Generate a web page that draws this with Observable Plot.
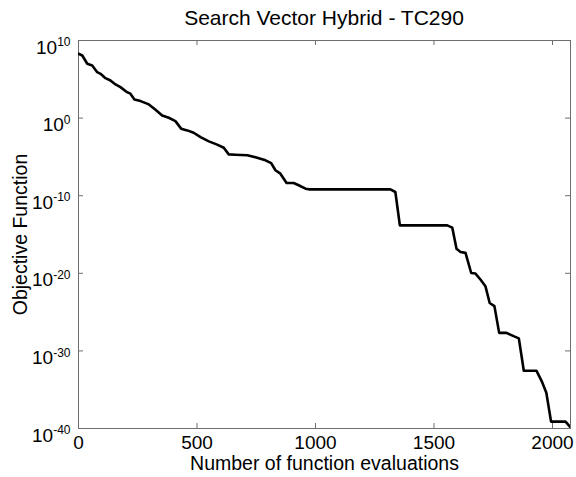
<!DOCTYPE html>
<html>
<head>
<meta charset="utf-8">
<script src="https://cdn.jsdelivr.net/npm/d3@7"></script>
<script src="https://cdn.jsdelivr.net/npm/@observablehq/plot@0.6"></script>
<style>
  html, body { margin: 0; padding: 0; background: #fff; }
  #wrap { width: 576px; height: 477px; position: relative; font-family: "Liberation Sans", Arial, sans-serif; }
  #title { position: absolute; top: 0; left: 0; height: 39px; box-sizing: border-box; padding-top: 7px; padding-left: 78px; width: 570px;
           text-align: center; font-size: 21px; line-height: 21px; color: #000; z-index: 2; }
  #chart { position: absolute; top: 0; left: 0; }
  svg { display: block; }
</style>
</head>
<body>
<div id="wrap">
  <div id="chart"></div>
  <div id="title">Search Vector Hybrid - TC290</div>
</div>
<script>
const titleText = "Search Vector Hybrid - TC290";
const xLabel = "Number of function evaluations";
const yLabel = "Objective Function";

// Number of function evaluations
const evaluations = [
  0, 16, 37, 58, 79, 93, 114, 135, 156, 177, 205, 219, 236, 262, 297, 325, 353, 381, 409,
  433, 459, 486, 515, 550, 585, 613, 634, 662, 712, 754, 789, 813, 831, 852, 878, 908, 929,
  958, 972, 1021, 1316, 1337, 1356, 1556, 1577, 1595, 1612, 1633, 1657, 1675, 1696, 1717,
  1735, 1755, 1775, 1806, 1836, 1858, 1879, 1932, 1956, 1974, 1994, 2055, 2076
];
// Objective function value
const objective = [
  1.95e8, 1.17e8, 1e7, 6.0e6, 8.3e5, 5.1e5, 1.4e5, 7.1e4, 2.2e4, 9.8e3, 2.2e3, 1.4e3, 257, 155, 58, 12, 2.2, 1.1, 0.41,
  0.044, 0.026, 0.013, 3.5e-3, 1e-3, 3.8e-4, 1.5e-4, 2.1e-5, 1.9e-5, 1.6e-5, 7.9e-6, 3.6e-6, 1.6e-6, 1.9e-7, 6.9e-8, 4.3e-9, 4.3e-9, 2.2e-9,
  8.1e-10, 6.6e-10, 6.6e-10, 6.6e-10, 3.0e-10, 1.5e-14, 1.5e-14, 7.8e-15, 1.5e-17, 5.6e-18, 4.3e-18, 1.1e-20, 9.3e-21, 1.6e-21, 2.2e-22,
  1.5e-24, 5.9e-25, 2.1e-28, 2.1e-28, 7.9e-29, 4.1e-29, 2.8e-33, 2.8e-33, 1.0e-34, 4.1e-36, 7.6e-40, 7.6e-40, 1.4e-40
];

const xTicks = [0, 500, 1000, 1500, 2000];
const yTicks = [1e-40, 1e-30, 1e-20, 1e-10, 1e0, 1e10];
const yExponents = ["-40", "-30", "-20", "-10", "0", "10"];
const xDomain = [0, 2076];
const yDomain = [1e-40, 1e10];

const data = evaluations.map((x, i) => ({x, y: objective[i]}));

const W = 576, H = 477;
const mL = 78, mR = 6, mT = 40, mB = 49;
const plotW = W - mL - mR, plotH = H - mT - mB;
const frameColor = "#6e6e6e";
const font = "'Liberation Sans', Arial, sans-serif";

const chart = Plot.plot({
  width: W,
  height: H,
  marginLeft: mL,
  marginRight: mR,
  marginTop: mT,
  marginBottom: mB,
  style: {fontFamily: font, fontSize: "19px", color: "#000", background: "#fff"},
  x: {domain: xDomain, label: null},
  y: {type: "log", domain: yDomain, label: null},
  marks: [
    Plot.frame({stroke: frameColor}),
    // inward ticks on all four sides
    Plot.ruleX(xTicks, {x: d => d, insetTop: plotH - 5, stroke: frameColor}),
    Plot.ruleX(xTicks, {x: d => d, insetBottom: plotH - 5, stroke: frameColor}),
    Plot.ruleY(yTicks, {y: d => d, insetRight: plotW - 5, stroke: frameColor}),
    Plot.ruleY(yTicks, {y: d => d, insetLeft: plotW - 5, stroke: frameColor}),
    Plot.axisX({ticks: xTicks, tickSize: 0, tickPadding: 7, fontSize: 19, tickFormat: d => String(d)}),
    Plot.axisY({ticks: yTicks, tickSize: 0, tickPadding: 8, fontSize: 19,
                tickFormat: d => yExponents[yTicks.indexOf(d)]}),
    Plot.line(data, {x: "x", y: "y", stroke: "#000", strokeWidth: 2.6, clip: true}),
    Plot.text([xLabel], {text: d => d, frameAnchor: "bottom", dy: 35, fontSize: 19.5, lineAnchor: "middle"}),
    Plot.text([yLabel], {text: d => d, frameAnchor: "left", dx: -58, rotate: -90, fontSize: 19.5,
                         textAnchor: "middle", lineAnchor: "middle"})
  ]
});

document.getElementById("chart").appendChild(chart);

// turn y tick labels into 10 with superscript exponent
chart.querySelectorAll('g[aria-label="y-axis tick label"] text').forEach(t => {
  const exp = t.textContent;
  t.textContent = "";
  const ns = "http://www.w3.org/2000/svg";
  const base = document.createElementNS(ns, "tspan");
  base.textContent = "10";
  const sup = document.createElementNS(ns, "tspan");
  sup.setAttribute("dy", "-7.5");
  sup.setAttribute("font-size", "12");
  sup.textContent = exp;
  t.appendChild(base);
  t.appendChild(sup);
  t.setAttribute("dy", "0.37em");
});
</script>
</body>
</html>
